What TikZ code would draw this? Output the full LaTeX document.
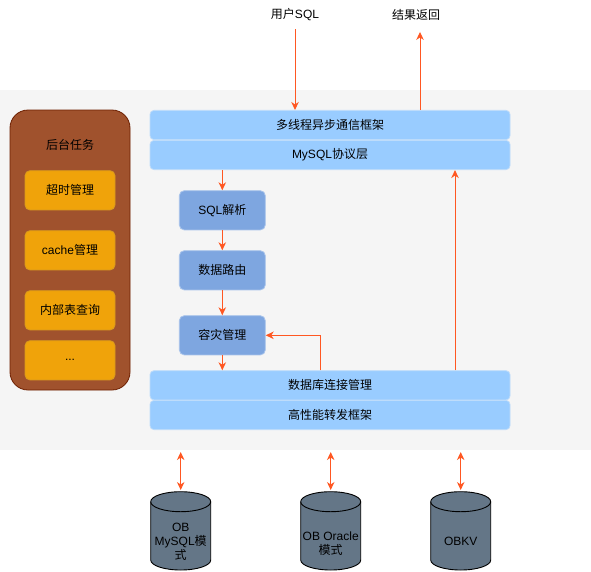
\documentclass[tikz,border=0pt]{standalone}
\usepackage{fontspec}
\setmainfont{Liberation Sans}
\newfontfamily\cjk{Noto Sans CJK SC}
\usetikzlibrary{arrows.meta}
\definecolor{bggray}{HTML}{F5F5F5}
\definecolor{brownfill}{HTML}{A0522D}
\definecolor{brownline}{HTML}{6D1F00}
\definecolor{orfill}{HTML}{F0A30A}
\definecolor{orline}{HTML}{D99A1E}
\definecolor{barfill}{HTML}{99CCFF}
\definecolor{barline}{HTML}{BEDCFA}
\definecolor{midfill}{HTML}{7EA6E0}
\definecolor{midline}{HTML}{A9C4EB}
\definecolor{arrcol}{HTML}{FF5722}
\definecolor{cylfill}{HTML}{647687}
\newcommand\zh[1]{{\cjk #1}}
\tikzset{
  tasksbox/.style={draw=brownline, fill=brownfill, line width=0.8pt, rounded corners=18pt, minimum width=120pt, minimum height=280pt},
  taskitem/.style={draw=orline, fill=orfill, line width=0.8pt, rounded corners=5pt, minimum width=90pt, minimum height=39.3pt, inner sep=0pt},
  barbox/.style={draw=barline, fill=barfill, line width=0.8pt, rounded corners=4pt, minimum width=360pt, minimum height=29.3pt, inner sep=0pt},
  midbox/.style={draw=midline, fill=midfill, line width=0.8pt, rounded corners=5pt, minimum width=86pt, minimum height=39.3pt, inner sep=0pt},
  arr/.style={draw=arrcol, line width=1pt, -{Stealth[length=8pt,width=7.5pt,inset=2.5pt]}},
  darr/.style={draw=arrcol, line width=1pt, {Stealth[length=8pt,width=7.5pt,inset=2.5pt]}-{Stealth[length=8pt,width=7.5pt,inset=2.5pt]}},
  cyl/.style={draw=black, fill=cylfill, line width=0.9pt},
  lbl/.style={inner sep=0pt, align=center, font=\fontsize{12}{14}\selectfont},
}
\begin{document}
\begin{tikzpicture}[x=1pt,y=1pt,font=\fontsize{12}{14}\selectfont]
\useasboundingbox (0,0) rectangle (591,-571);
\fill[bggray] (0,-90) rectangle (591,-450);

% background tasks
\node[tasksbox] (tasks) at (70,-250) {};
\node[lbl] (taskstitle) at (70,-145) {\zh{后台任务}};
\node[taskitem] (t1) at (70,-190.3) {\zh{超时管理}};
\node[taskitem] (t2) at (70,-250.3) {cache\zh{管理}};
\node[taskitem] (t3) at (70,-310.3) {\zh{内部表查询}};
\node[taskitem] (t4) at (70,-360.3) {...};

% bars
\node[barbox] (comm) at (330,-125) {\zh{多线程异步通信框架}};
\node[barbox] (mysql) at (330,-155) {MySQL\zh{协议层}};
\node[barbox] (conn) at (330,-385.3) {\zh{数据库连接管理}};
\node[barbox] (fwd) at (330,-415) {\zh{高性能转发框架}};

% middle
\node[midbox] (sql) at (222.3,-210.3) {SQL\zh{解析}};
\node[midbox] (route) at (222.3,-270.3) {\zh{数据路由}};
\node[midbox] (dr) at (222.3,-335.3) {\zh{容灾管理}};

% top labels
\node[lbl] (user) at (295,-15) {\zh{用户}SQL};
\node[lbl] (result) at (416,-15) {\zh{结果返回}};

% arrows
\draw[arr] ([yshift=-8pt]user.south) -- (user.south |- comm.north);
\draw[arr] ([xshift=90pt]comm.north) -- ([xshift=90pt,yshift=78pt]comm.north);
\draw[arr] (sql.north |- mysql.south) -- (sql.north);
\draw[arr] (sql.south) -- (route.north);
\draw[arr] (route.south) -- (dr.north);
\draw[arr] (dr.south) -- (dr.south |- conn.north);
\draw[arr] ([xshift=-10pt]conn.north) |- (dr.east);
\draw[arr] ([xshift=125pt]conn.north) -- ([xshift=125pt]mysql.south);

% cylinders
\foreach \cx/\nm in {180.7/c1, 330.7/c2, 460.7/c3}{
  \draw[cyl] (\cx-30,-501.7) -- (\cx-30,-560) arc(180:360:30pt and 10pt) -- (\cx+30,-501.7) arc(0:180:30pt and 10pt) -- cycle;
  \draw[cyl, fill=none] (\cx-30,-501.7) arc(180:360:30pt and 10pt);
  \coordinate (\nm) at (\cx,-490);
}
\node[lbl] (db1) at (180.7,-542) {OB\\MySQL\zh{模}\\\zh{式}};
\node[lbl] (db2) at (330.7,-544) {OB Oracle\\\zh{模式}};
\node[lbl] (db3) at (460.7,-541.7) {OBKV};

\draw[darr] ([yshift=-22pt]fwd.south -| c1) -- (c1);
\draw[darr] ([yshift=-22pt]fwd.south -| c2) -- (c2);
\draw[darr] ([yshift=-22pt]fwd.south -| c3) -- (c3);
\end{tikzpicture}
\end{document}
